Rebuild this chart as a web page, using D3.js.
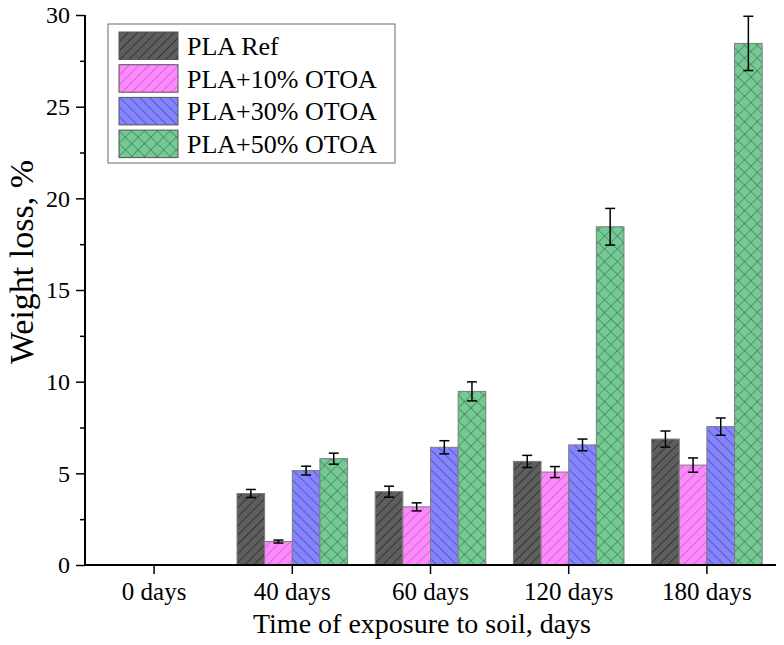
<!DOCTYPE html>
<html>
<head>
<meta charset="utf-8">
<script src="https://cdn.jsdelivr.net/npm/d3@7"></script>
<style>
  html, body { margin: 0; padding: 0; background: #fff; }
  svg text { font-family: "Liberation Serif", "Times New Roman", serif; fill: #000; }
</style>
</head>
<body>
<svg id="chart" width="784" height="645"></svg>
<script>
// data
const categories = ['0 days', '40 days', '60 days', '120 days', '180 days'];
const seriesNames = ['PLA Ref', 'PLA+10% OTOA', 'PLA+30% OTOA', 'PLA+50% OTOA'];
const refMean = [0, 3.9, 4.0, 5.65, 6.87];
const refErr = [0, 0.22, 0.3, 0.33, 0.44];
const p10Mean = [0, 1.28, 3.17, 5.07, 5.45];
const p10Err = [0, 0.08, 0.22, 0.3, 0.39];
const p30Mean = [0, 5.15, 6.42, 6.55, 7.55];
const p30Err = [0, 0.24, 0.36, 0.32, 0.47];
const p50Mean = [0, 5.8, 9.47, 18.45, 28.45];
const p50Err = [0, 0.3, 0.52, 1.0, 1.48];
const yTicks = [0, 5, 10, 15, 20, 25, 30];

const means = [refMean, p10Mean, p30Mean, p50Mean];
const errs = [refErr, p10Err, p30Err, p50Err];

const svg = d3.select('#chart');
const plot = {left: 85, right: 776, top: 15, bottom: 565};

const x0 = d3.scaleBand().domain(categories).range([plot.left, plot.right]).padding(0);
const x1 = d3.scaleBand().domain(seriesNames)
  .range([x0.bandwidth() * 0.1, x0.bandwidth() * 0.9]).padding(0);
const y = d3.scaleLinear().domain([0, 30]).range([plot.bottom, plot.top]);

// hatch patterns
const defs = svg.append('defs');
const styles = [
  {fill: '#5e5e5e', line: '#000', op: 0.85, angle: 45, gap: 6.5, cross: false},
  {fill: '#ff88ff', line: '#444', op: 0.6, angle: 45, gap: 7, cross: false},
  {fill: '#8484ff', line: '#1a1a40', op: 0.75, angle: -45, gap: 7, cross: false},
  {fill: '#74c994', line: '#1f4a2c', op: 0.8, angle: 45, gap: 9, cross: true}
];
styles.forEach((s, i) => {
  const p = defs.append('pattern')
    .attr('id', 'hatch' + i)
    .attr('patternUnits', 'userSpaceOnUse')
    .attr('width', s.gap).attr('height', s.gap)
    .attr('patternTransform', `rotate(${s.angle})`);
  p.append('rect').attr('width', s.gap).attr('height', s.gap).attr('fill', s.fill);
  p.append('line').attr('x1', 0).attr('y1', 0).attr('x2', 0).attr('y2', s.gap)
    .attr('stroke', s.line).attr('stroke-opacity', s.op).attr('stroke-width', 1);
  if (s.cross) {
    p.append('line').attr('x1', 0).attr('y1', 0).attr('x2', s.gap).attr('y2', 0)
      .attr('stroke', s.line).attr('stroke-opacity', s.op).attr('stroke-width', 1);
  }
});

// bars
seriesNames.forEach((name, si) => {
  const g = svg.append('g');
  categories.forEach((c, ci) => {
    const v = means[si][ci];
    if (!v) return;
    const bx = x0(c) + x1(name);
    g.append('rect')
      .attr('x', bx).attr('y', y(v))
      .attr('width', x1.bandwidth()).attr('height', y(0) - y(v))
      .attr('fill', `url(#hatch${si})`)
      .attr('stroke', '#7d7d7d').attr('stroke-width', 1);
    const cx = bx + x1.bandwidth() / 2;
    const e = errs[si][ci];
    const eb = g.append('g').attr('stroke', '#000').attr('stroke-width', 1.5);
    eb.append('line').attr('x1', cx).attr('x2', cx).attr('y1', y(v + e)).attr('y2', y(v - e));
    eb.append('line').attr('x1', cx - 5).attr('x2', cx + 5).attr('y1', y(v + e)).attr('y2', y(v + e));
    eb.append('line').attr('x1', cx - 5).attr('x2', cx + 5).attr('y1', y(v - e)).attr('y2', y(v - e));
  });
});

// axes
const yAxis = svg.append('g').attr('transform', `translate(${plot.left},0)`)
  .call(d3.axisLeft(y).tickValues(yTicks).tickSize(9).tickPadding(6));
const yMinor = svg.append('g').attr('transform', `translate(${plot.left},0)`)
  .call(d3.axisLeft(y).tickValues(d3.range(2.5, 30, 5)).tickSize(5).tickFormat(''));
const xAxis = svg.append('g').attr('transform', `translate(0,${plot.bottom})`)
  .call(d3.axisBottom(x0).tickSize(9).tickPadding(8).tickSizeOuter(0));

[yAxis, yMinor, xAxis].forEach(a => {
  a.select('.domain').attr('stroke', '#000').attr('stroke-width', 2);
  a.selectAll('.tick line').attr('stroke', '#000').attr('stroke-width', 1.5);
  a.selectAll('text').style('font-family', '"Liberation Serif", serif');
});
yAxis.selectAll('text').style('font-size', '24px');
xAxis.selectAll('text').style('font-size', '25px');
yMinor.select('.domain').remove();
xAxis.select('.domain').attr('d', `M${plot.left},0H${plot.right}`);
yAxis.select('.domain').attr('d', `M0,${plot.top}V${plot.bottom}`);

svg.append('text')
  .attr('transform', 'translate(33,262) rotate(-90)')
  .attr('text-anchor', 'middle')
  .style('font-size', '34px')
  .text('Weight loss, %');

svg.append('text')
  .attr('x', 422).attr('y', 633)
  .attr('text-anchor', 'middle')
  .style('font-size', '28px')
  .text('Time of exposure to soil, days');

// legend
const leg = svg.append('g').attr('transform', 'translate(108,24)');
leg.append('rect').attr('width', 287).attr('height', 139)
  .attr('fill', '#fff').attr('stroke', '#6b6b6b').attr('stroke-width', 1);
seriesNames.forEach((name, i) => {
  const row = leg.append('g').attr('transform', `translate(11,${8 + i * 32.7})`);
  row.append('rect').attr('width', 59).attr('height', 27.5)
    .attr('fill', `url(#hatch${i})`).attr('stroke', '#555').attr('stroke-width', 1);
  row.append('text').attr('x', 68).attr('y', 23)
    .style('font-size', '26px').text(name);
});
</script>
</body>
</html>
